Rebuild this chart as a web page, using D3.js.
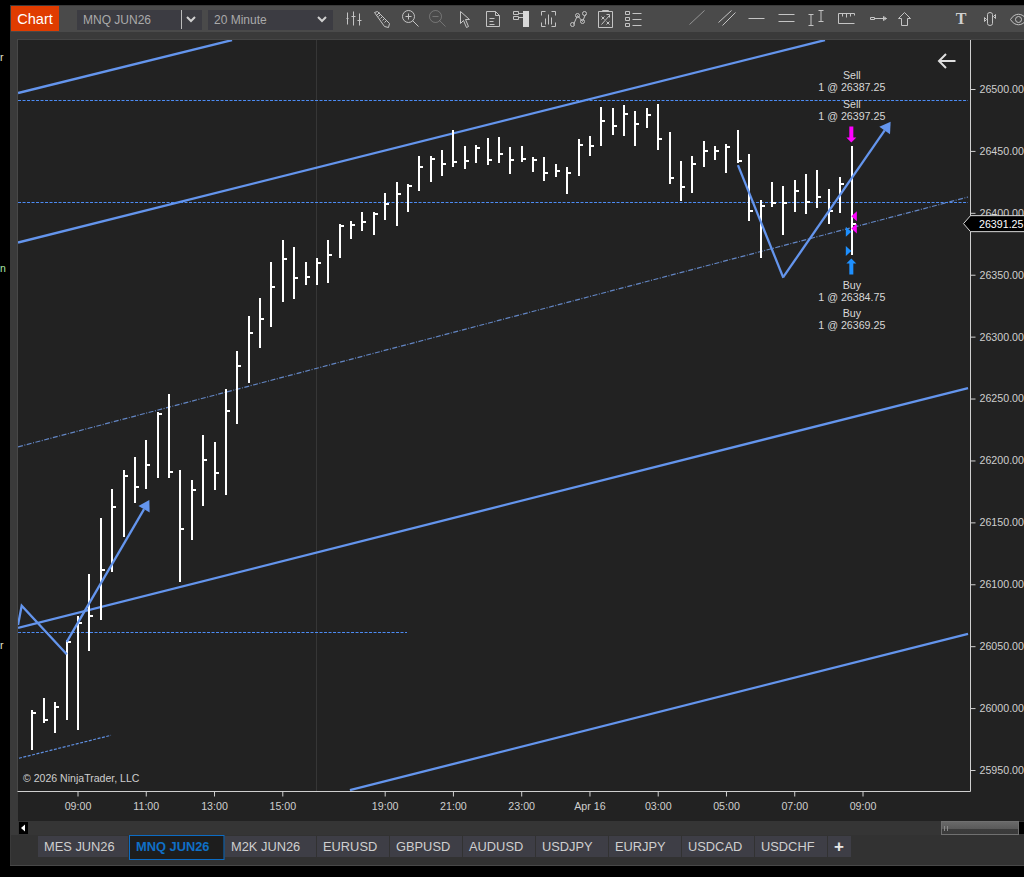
<!DOCTYPE html>
<html><head><meta charset="utf-8">
<script src="https://cdn.jsdelivr.net/npm/d3@7"></script>
<style>html,body{margin:0;padding:0;background:#000;overflow:hidden}svg{display:block}text{font-family:"Liberation Sans",Arial,sans-serif}</style>
</head><body><svg id="c" width="1024" height="877"></svg>
<script>
// ---------- data (bar index 0 = 09:00 first session bar; prices in index points) ----------
const barIndex=d3.range(-4,69);
const highs=[25998.5,26008.25,26005,26055,26074.5,26108.25,26153.5,26177,26192.25,26202.75,26216.5,26239.5,26253.75,26192.25,26184.25,26220.5,26215,26257.75,26288.5,26316.75,26331.25,26360.25,26378,26372.5,26360.25,26363.5,26378,26391,26393.5,26400.75,26400.75,26416,26425,26423.25,26446,26446,26450.75,26467,26454,26454.75,26460.5,26461.25,26453.25,26454,26445,26445,26439.5,26437,26459.5,26462,26485.5,26484.75,26487,26482.25,26484.75,26488,26465.25,26442,26446,26458,26454,26455.5,26467,26447.5,26410.5,26425,26421.75,26426.5,26431.5,26434.5,26419.25,26429,26454];
const lows=[25966.25,25988,25979.5,25990.5,25982.5,26046.5,26071.25,26110.25,26138.5,26166,26177.25,26186,26186,26102,26135.75,26163.25,26176.5,26172,26229.75,26262.75,26291,26308,26328.25,26330,26341.75,26341.75,26343.5,26363.5,26379,26385.25,26382,26394.25,26389.5,26400.75,26418,26425,26429.75,26437,26435.5,26440.25,26438.5,26440.25,26431.5,26441,26433,26425.75,26429,26415.25,26429.75,26446,26454,26463,26462,26454,26468.5,26450.75,26423.25,26409.5,26416,26437,26442.75,26432.25,26440.25,26393.75,26363.75,26404.75,26382,26400.75,26399,26404,26391,26400,26366];
const closes=[25996.25,25990,26001.25,26053,26069,26074,26111.5,26162.5,26187.5,26178.5,26196.5,26237.75,26191,26144.75,26176.5,26200.5,26190,26240,26276.25,26303,26314.25,26340,26362.75,26347.5,26348.25,26359.5,26366,26389.5,26390.25,26392.5,26399,26407,26415.25,26421.75,26437,26443.75,26439.5,26441,26442,26452.5,26442.75,26447.5,26442.75,26443.5,26442.75,26432.25,26433.75,26432.25,26454.75,26454,26474.25,26470,26479.75,26471.75,26479,26459.5,26428,26421,26439.5,26450,26450,26453.25,26442,26401.75,26405.5,26408,26408,26417.5,26409,26412.75,26401.75,26423.25,26391.25];
const priceTicks=[26500,26450,26400,26350,26300,26250,26200,26150,26100,26050,26000,25950];
const timeTickIdx=[0,6,12,18,27,33,39,45,51,57,63,69];
const timeTickLab=["09:00","11:00","13:00","15:00","19:00","21:00","23:00","Apr 16","03:00","05:00","07:00","09:00"];
const lastPrice=26391.25, lastIdx=68;
const channels=[[-5.27,26496.75,13.54,26539.5],[-5.27,26376,65.66,26539.5],[-5.27,26064.75,78.23,26258.5],[23.9,25933.75,78.23,26060]];
const midLine=[-5.27,26211,78.23,26412.75];
const smallDashed=[-5.19,25959.5,2.9,25978];
const hLevels=[[26491,-5.27,78.23],[26408.5,-5.27,78.23],[26061.25,-5.27,28.92]];
const zigLeft=[[-5.27,26067],[-4.95,26082.75],[-0.99,26043.5]];
const zigRight=[[58.01,26438.5],[62,26347.5]];
const arrows=[[-0.99,26053.5,6.27,26168],[62,26348.25,71.43,26473.5]];
const sellPrices=[26387.25,26397.25];
const buyPrices=[26384.75,26369.25];
const tabs=["MES JUN26","MNQ JUN26","M2K JUN26","EURUSD","GBPUSD","AUDUSD","USDJPY","EURJPY","USDCAD","USDCHF"];
const tabEdges=[38,129,225,317,390,463,536,609,682,755,828];

// ---------- scales ----------
const x=d3.scaleLinear().domain([0,69]).range([78,863]);
const y=d3.scaleLinear().domain([25950,26500]).range([770,89]);
const svg=d3.select("#c");
const R=(g,x0,y0,w,h,f)=>g.append("rect").attr("x",x0).attr("y",y0).attr("width",w).attr("height",h).attr("fill",f).attr("shape-rendering","crispEdges");
const T=(g,s,x0,y0,size,f,a)=>g.append("text").text(s).attr("x",x0).attr("y",y0).attr("font-size",size).attr("fill",f).attr("text-anchor",a||"start");

// ---------- window chrome ----------
R(svg,0,0,1024,877,"#000");
R(svg,10,5,1014,861,"#3a3a3a");
R(svg,11,6,1013,26,"#4a4a4a");
R(svg,18,40,1006,751,"#222222");
R(svg,17,39,1007,1,"#454545");
R(svg,17,39,1,752,"#484848");
R(svg,18,791,1006,30,"#222222");
R(svg,18,821,1006,14,"#353535");
R(svg,11,835,1013,31,"#323232");
R(svg,10,865,1014,1,"#484848");
// off-window glyph fragments
T(svg,"r",0,61,10.5,"#e8e8d0");T(svg,"n",0,272,10.5,"#a8e8a8");T(svg,"r",0,649,10.5,"#e8e8d0");

// toolbar
R(svg,11,6,48,25,"#e03c00");
T(svg,"Chart",35,24,14.6,"#fff","middle");
R(svg,77,10,125,20,"#3c3c42");R(svg,181,10,1,19,"#bbbbbb");
T(svg,"MNQ JUN26",83,24,12,"#aaaaaa");
R(svg,208,10,125,20,"#3c3c42");
T(svg,"20 Minute",214,24,12,"#aaaaaa");
const chev=(cx)=>svg.append("path").attr("d",`M${cx-4} 17l4 4l4 -4`).attr("fill","none").attr("stroke","#d0d0d0").attr("stroke-width",2);
chev(191);chev(322);
const icons=[
 [346,"M1 2v12M0 8h2M7 1v14M5 6h4M13 3v12M11 10h4",1],
 [373,"M1 2l3 -1l12 12l-1 4l-4 -1zM3 5l3 -3M5 6l2 -2M7 8l2 -2M9 10l2 -2M11 12l2 -2",1],
 [402,"M0 6a6 6 0 1 0 12 0a6 6 0 1 0 -12 0M3 6h6M6 3v6M10 10l6 6",1],
 [429,"M0 6a6 6 0 1 0 12 0a6 6 0 1 0 -12 0M3 6h6M10 10l6 6",.35],
 [460,"M0 1l9 8h-4l3 7l-2 1l-3 -7l-3 3z",1],
 [486,"M0 1h9l4 4v11h-13zM9 1v4h4M3 8h5M3 11h4M3 14h5",1],
 [513,"M0 1h5v3h-5zM0 6h5v3h-5zM5 3h6M5 7h6",1],
 [541,"M0 5v-4h4M10 1h4v4M14 12v4h-4M4 16h-4v-4M4 8v6M7 4v10M10 7v7",1],
 [570,"M3 14l4 -9l5 6l3 -7M0 14a2 2 0 1 0 4 0a2 2 0 1 0 -4 0M5 5a2 2 0 1 0 4 0a2 2 0 1 0 -4 0M10 11a2 2 0 1 0 4 0a2 2 0 1 0 -4 0M12 3a2 2 0 1 0 4 0a2 2 0 1 0 -4 0",1],
 [598,"M0 1h14v16h-14zM4 1v-1h6v1M3 14l8 -9M8 4h3v3M3 6l3 3M6 6l-3 3M8 11l3 3M11 11l-3 3",1],
 [625,"M0 1h4v3h-4zM0 7h4v3h-4zM0 13h4v3h-4zM7 3h9M7 9h9M7 15h9",1],
 [689,"M0 14l15 -14",.6],
 [718,"M0 12l13 -12M4 15l13 -13",1],
 [748,"M0 8h16",1],
 [778,"M0 4h16M0 11h16",1],
 [808,"M0 4h5M2.5 4v11M0 15h5M10 0h5M12.5 0v11M10 11h5",1],
 [838,"M0 3h16v2M0 3v10M4 3v3M8 3v4M12 3v3M0 13h16",1],
 [870,"M4 8h12M0 7h4v2h-4z M16 8l-3 -2v4z",1],
 [898,"M0 8l6 -6l6 6h-3v7h-6v-7z",1],
 [984,"M3 4a2.5 2 0 0 1 5 0v9a2.5 2 0 0 1 -5 0zM0 7l2 2l-2 2zM11 4l-2 2l2 2z",1],
 [1010,"M0 9c4 -7 12 -7 16 0c-4 7 -12 7 -16 0M5 9a3 3 0 1 0 6 0a3 3 0 1 0 -6 0",1],
];
icons.forEach(([ix,d,o])=>svg.append("path").attr("transform",`translate(${ix+.5},10.5)`).attr("d",d).attr("fill","none").attr("stroke","#c4c4c4").attr("opacity",o));
R(svg,523,11,6,16,"#d8d8d8");
T(svg,"T",961,24,16,"#d0d0d0","middle").attr("font-weight","bold").style("font-family","'Liberation Serif'");

// ---------- plot ----------
const defs=svg.append("defs");
defs.append("clipPath").attr("id","plot").append("rect").attr("x",18).attr("y",40).attr("width",952).attr("height",751);
const plot=svg.append("g").attr("clip-path","url(#plot)");
R(plot,316,40,1,751,"#363636");

const seg=(a,b,c,d)=>`M${x(a)},${y(b)}L${x(c)},${y(d)}`;
const BLUE="#6495ed";
plot.append("g").selectAll("path").data(channels).join("path").attr("d",d=>seg(...d)).attr("stroke",BLUE).attr("stroke-width",2.3).attr("fill","none");
plot.append("path").attr("d",seg(...midLine)).attr("stroke","#6f98e0").attr("stroke-width",1.2).attr("stroke-dasharray","5 1.5 1 1.5").attr("opacity",.85).attr("fill","none");
plot.append("path").attr("d",seg(...smallDashed)).attr("stroke","#5f8fe0").attr("stroke-width",1.2).attr("stroke-dasharray","3 1.5").attr("fill","none");
plot.append("g").selectAll("line").data(hLevels).join("line")
 .attr("x1",d=>x(d[1])).attr("x2",d=>x(d[2])).attr("y1",d=>Math.round(y(d[0]))+.5).attr("y2",d=>Math.round(y(d[0]))+.5)
 .attr("stroke","#4d8cf5").attr("stroke-width",1).attr("stroke-dasharray","3 1.5");

// OHLC bars
const bars=plot.append("g").selectAll("g").data(barIndex).join("g");
bars.append("rect").attr("x",i=>Math.round(x(i))-1).attr("y",(i,k)=>Math.round(y(highs[k]))).attr("width",2)
 .attr("height",(i,k)=>Math.round(y(lows[k]))-Math.round(y(highs[k]))).attr("fill","#fff").attr("shape-rendering","crispEdges");
bars.append("rect").attr("x",i=>Math.round(x(i))+1).attr("y",(i,k)=>Math.round(y(closes[k]))-1).attr("width",3).attr("height",2).attr("fill","#fff").attr("shape-rendering","crispEdges");

// zigzags and arrows
const ln=d3.line().x(d=>x(d[0])).y(d=>y(d[1]));
plot.append("g").selectAll("path").data([zigLeft,zigRight]).join("path").attr("d",ln).attr("stroke",BLUE).attr("stroke-width",2.3).attr("fill","none");
arrows.forEach(a=>{
  const x0=x(a[0]),y0=y(a[1]),x1=x(a[2]),y1=y(a[3]);
  const L=Math.hypot(x1-x0,y1-y0),ux=(x1-x0)/L,uy=(y1-y0)/L,hl=10.5,hw=6.5;
  const bx=x1-ux*hl,by=y1-uy*hl;
  plot.append("path").attr("d",`M${x0},${y0}L${bx},${by}`).attr("stroke",BLUE).attr("stroke-width",2.3).attr("fill","none");
  plot.append("path").attr("d",`M${x1},${y1}L${bx-uy*hw},${by+ux*hw}L${bx+uy*hw},${by-ux*hw}Z`).attr("fill",BLUE);
});

// trade markers
const MAG="#ff00ff",DB="#1e90ff",mx=x(lastIdx)-0.3;
plot.append("g").selectAll("path").data(sellPrices).join("path").attr("fill",MAG)
 .attr("d",p=>`M${mx},${y(p)}l5.5,-5v10z`);
plot.append("g").selectAll("path").data(buyPrices).join("path").attr("fill",DB)
 .attr("d",p=>`M${mx},${y(p)}l-5.5,-5v10z`);
const highY=y(highs[highs.length-1]),lowY=y(lows[lows.length-1]);
plot.append("path").attr("fill",MAG).attr("d",`M${mx-2},${highY-19.5}h4v11h3l-5,5l-5,-5h3z`);
plot.append("path").attr("fill",DB).attr("d",`M${mx-2},${lowY+19.5}h4v-11h3l-5,-5l-5,5h3z`);

// trade labels
const tagY=[75,104,285,313];
const tagA=["Sell","Sell","Buy","Buy"];
const tagP=[sellPrices[0],sellPrices[1],buyPrices[0],buyPrices[1]];
tagY.forEach((ty,k)=>{
  T(svg,tagA[k],mx+.5,ty+3.8,10.67,"#d8d8d8","middle");
  T(svg,"1 @ "+d3.format(".2f")(tagP[k]),mx+.5,ty+16,10.67,"#d8d8d8","middle");
});

// axes
const yAxis=d3.axisRight(y).tickValues(priceTicks).tickSize(5).tickPadding(4).tickFormat(d3.format(".2f"));
const gy=svg.append("g").attr("transform","translate(970.5,0)").call(yAxis);
gy.select(".domain").attr("d","M0,40V791.5");
const xAxis=d3.axisBottom(x).tickValues(timeTickIdx).tickSize(5).tickPadding(6).tickFormat((d,i)=>timeTickLab[i]);
const gx=svg.append("g").attr("transform","translate(-0.5,791.5)").call(xAxis);
gx.select(".domain").attr("d","M18,0H971");
[gx,gy].forEach(g=>{g.selectAll(".domain,.tick line").attr("stroke","#cfcfcf").attr("stroke-width",1);
  g.selectAll("text").attr("fill","#cfcfcf").attr("font-size",10.67).attr("font-family","Liberation Sans");});

// current price marker
const py=y(lastPrice);
svg.append("path").attr("d",`M963.5,${py}L970.5,${py-8}H1025V${py+8}H970.5Z`).attr("fill","#000").attr("stroke","#d8d8d8");
T(svg,d3.format(".2f")(lastPrice),979,py+4,10.67,"#fff");

// back arrow
svg.append("path").attr("d","M955.5 61H939M946 54l-7 7l7 7").attr("fill","none").attr("stroke","#e0e0e0").attr("stroke-width",2);
T(svg,"© 2026 NinjaTrader, LLC",23,782,10.55,"#cfcfcf");

// scrollbar
R(svg,19,822,9,12,"#000");
svg.append("path").attr("d","M21 828l4 -3.5v7z").attr("fill","#fff");
const th=defs.append("linearGradient").attr("id","th").attr("x1",0).attr("x2",0).attr("y1",0).attr("y2",1);
th.append("stop").attr("offset",0).attr("stop-color","#6a6a6a");th.append("stop").attr("offset",.55).attr("stop-color","#5a5a5a");th.append("stop").attr("offset",.6).attr("stop-color","#3c3c3c");th.append("stop").attr("offset",1).attr("stop-color","#3a3a3a");
R(svg,941.5,821.5,77,13,"url(#th)").attr("stroke","#707070");
R(svg,944,826,1,5,"#8a8a8a");R(svg,947,826,1,5,"#8a8a8a");
R(svg,1019,822,5,12,"#000");

// instrument tabs
const tabG=svg.append("g");
tabs.forEach((t,k)=>{
  const a=tabEdges[k],b=tabEdges[k+1]-1,act=k===1;
  if(act){
    tabG.append("rect").attr("x",a+.5).attr("y",835.5).attr("width",b-a-.5).attr("height",24).attr("fill","#1d1d1d").attr("stroke","#0c6cc4");
    T(tabG,t,a+7,851,12.85,"#0f6fc6").attr("font-weight","bold");
  }else{
    R(tabG,a,836,b-a,21,"#3e3e46");
    T(tabG,t,a+6,851,12.85,"#cfcfcf");
  }
});
R(tabG,828,836,23,21,"#3e3e46");
T(tabG,"+",839,852,17,"#e8e8e8","middle").attr("font-weight","bold");
</script></body></html>
